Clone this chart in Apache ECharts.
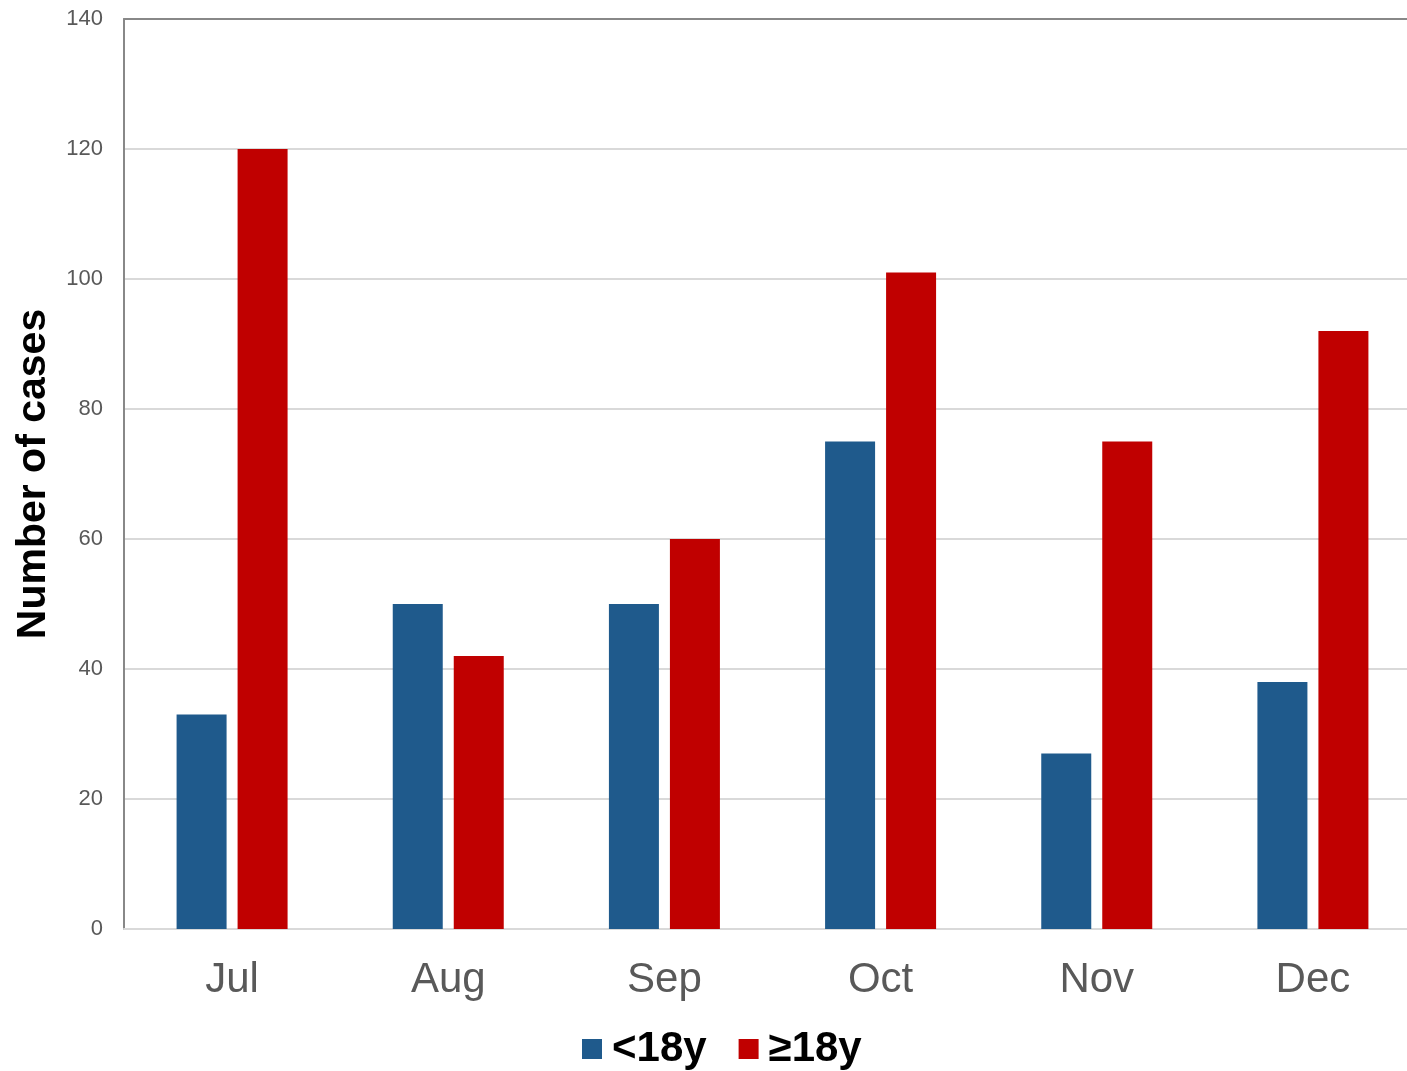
<!DOCTYPE html>
<html>
<head>
<meta charset="utf-8">
<script src="https://cdn.jsdelivr.net/npm/echarts@6/dist/echarts.min.js"></script>
<style>
  html, body { margin: 0; padding: 0; background: #fff; overflow: hidden; }
  #chart { width: 1421px; height: 1071px; }
</style>
</head>
<body>
<div id="chart"></div>
<script>
const months = ['Jul', 'Aug', 'Sep', 'Oct', 'Nov', 'Dec']
const under18 = [33, 50, 50, 75, 27, 38]
const adults = [120, 42, 60, 101, 75, 92]
const yTicks = [0, 20, 40, 60, 80, 100, 120, 140]

const chart = echarts.init(document.getElementById('chart'))
const font = '"Liberation Sans", Arial, sans-serif'

chart.setOption({
  animation: false,
  textStyle: { fontFamily: font },
  // plot runs past the right edge of the picture, as in the original
  grid: { left: 124, right: 0, top: 19, bottom: 142, containLabel: false },
  legend: {
    bottom: -4,
    left: 577,
    itemWidth: 20,
    itemHeight: 20,
    itemGap: 32,
    icon: 'rect',
    textStyle: { fontSize: 42, fontWeight: 'bold', color: '#000', fontFamily: font, padding: [0, 0, 0, 5] }
  },
  xAxis: [
    {
      type: 'category',
      data: months,
      axisLine: { lineStyle: { color: '#d9d9d9', width: 2 } },
      axisTick: { show: false },
      axisLabel: { fontSize: 42, color: '#595959', margin: 30 }
    },
    {
      type: 'category',
      data: months,
      position: 'top',
      axisLine: { show: true, lineStyle: { color: '#888', width: 2 } },
      axisTick: { show: false },
      axisLabel: { show: false }
    }
  ],
  yAxis: {
    type: 'value',
    min: yTicks[0],
    max: yTicks[yTicks.length - 1],
    interval: 20,
    name: 'Number of cases',
    nameLocation: 'middle',
    nameGap: 70,
    nameTextStyle: { fontSize: 41, fontWeight: 'bold', color: '#000' },
    axisLine: { show: true, lineStyle: { color: '#888', width: 2 } },
    axisTick: { show: false },
    axisLabel: { fontSize: 22, color: '#595959', margin: 21 },
    splitLine: { lineStyle: { color: '#d9d9d9', width: 2 } }
  },
  series: [
    {
      name: '<18y',
      type: 'bar',
      data: under18,
      barWidth: 50,
      barGap: '22%',
      itemStyle: { color: '#1f5a8c' }
    },
    {
      name: '≥18y',
      type: 'bar',
      data: adults,
      barWidth: 50,
      barGap: '22%',
      itemStyle: { color: '#c00000' }
    }
  ]
})
</script>
</body>
</html>
